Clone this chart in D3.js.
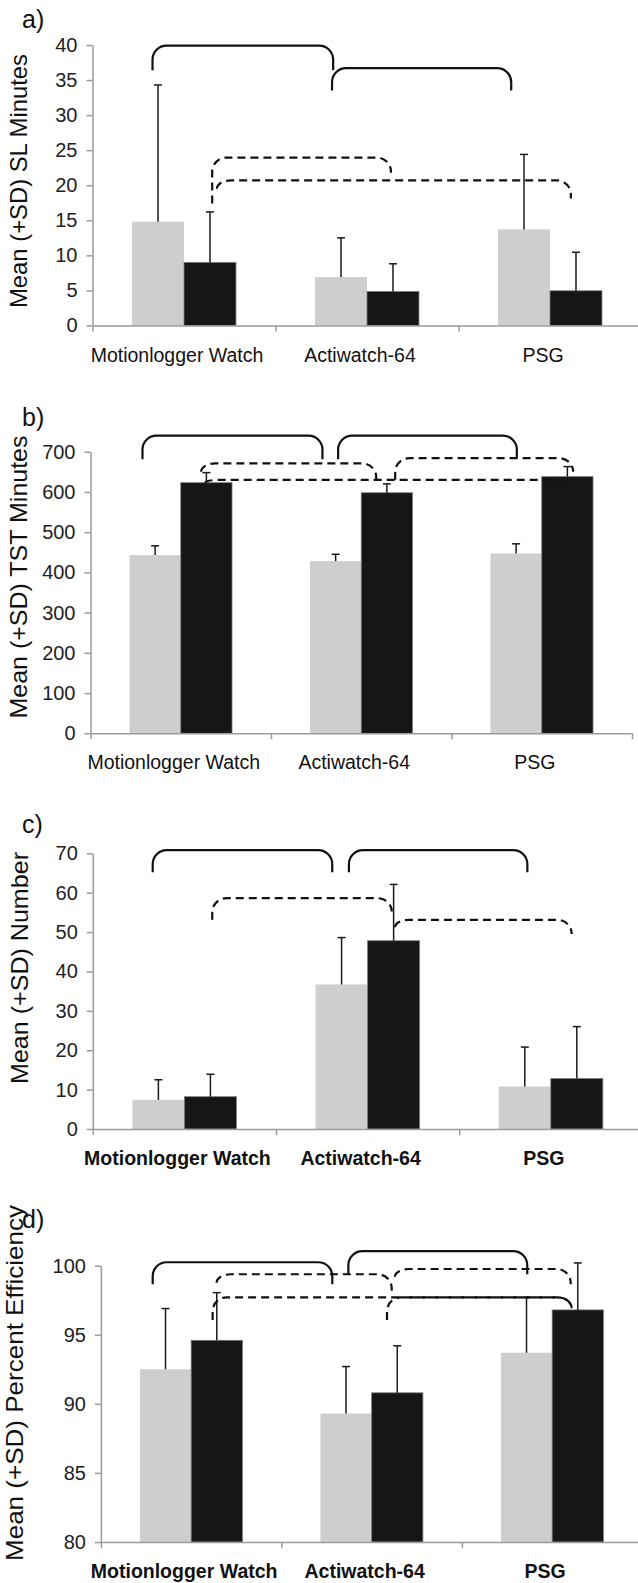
<!DOCTYPE html>
<html>
<head>
<meta charset="utf-8">
<script src="https://cdn.jsdelivr.net/npm/d3@7"></script>
<style>
  body { margin: 0; background: #fff; }
  svg { display: block; }
  text { font-family: "Liberation Sans", Arial, Helvetica, sans-serif; }
</style>
</head>
<body>
<svg id="fig" width="638" height="1583"></svg>
<script>
// ---- data ----
const categories = ['Motionlogger Watch', 'Actiwatch-64', 'PSG']
const groups = ['grey', 'black']

// a) sleep latency (minutes)
const slMeanGrey = [14.8, 6.9, 13.7]
const slSdGrey = [19.5, 5.6, 10.7]
const slMeanBlack = [9.0, 4.85, 4.95]
const slSdBlack = [7.2, 3.95, 5.5]
const slTicks = [0, 5, 10, 15, 20, 25, 30, 35, 40]

// b) total sleep time (minutes)
const tstMeanGrey = [443, 428, 447]
const tstSdGrey = [23, 17, 24]
const tstMeanBlack = [623, 598, 638]
const tstSdBlack = [25, 22, 25]
const tstTicks = [0, 100, 200, 300, 400, 500, 600, 700]

// c) number
const numMeanGrey = [7.4, 36.7, 10.8]
const numSdGrey = [5.1, 11.9, 10.0]
const numMeanBlack = [8.2, 47.8, 12.8]
const numSdBlack = [5.7, 14.3, 13.2]
const numTicks = [0, 10, 20, 30, 40, 50, 60, 70]

// d) percent efficiency
const effMeanGrey = [92.5, 89.3, 93.7]
const effSdGrey = [4.4, 3.4, 4.0]
const effMeanBlack = [94.6, 90.8, 96.8]
const effSdBlack = [3.45, 3.4, 3.4]
const effTicks = [80, 85, 90, 95, 100]

// significance brackets: from/to in category units (0..3), top and leg ends in data units
const slBrackets = [
    {from: 0.328, to: 1.315, top: 39.9, left: 36.4, right: 36.4, dashed: false},
    {from: 1.309, to: 2.288, top: 36.7, left: 33.5, right: 33.5, dashed: false},
    {from: 0.654, to: 1.631, top: 23.95, left: 17.4, right: 21.8, dashed: true},
    {from: 0.68, to: 2.614, top: 20.7, left: 19.5, right: 18.1, dashed: true}
]
const tstBrackets = [
    {from: 0.288, to: 1.285, top: 740, left: 681, right: 681, dashed: false},
    {from: 1.372, to: 2.362, top: 740, left: 681, right: 683, dashed: false},
    {from: 0.613, to: 1.583, top: 671, left: 650, right: 630, dashed: true},
    {from: 1.688, to: 2.674, top: 684, left: 630, right: 650, dashed: true},
    {from: 0.636, to: 2.62, top: 630, left: 623, right: 623, dashed: true}
]
const numBrackets = [
    {from: 0.327, to: 1.307, top: 70.8, left: 65.2, right: 65.2, dashed: false},
    {from: 1.398, to: 2.372, top: 70.8, left: 65.2, right: 65.2, dashed: false},
    {from: 0.652, to: 1.632, top: 58.6, left: 53.1, right: 55.2, dashed: true},
    {from: 1.65, to: 2.614, top: 53.1, left: 51.2, right: 49.5, dashed: true}
]
const effBrackets = [
    {from: 0.287, to: 1.282, top: 100.25, left: 98.65, right: 98.65, dashed: false},
    {from: 1.371, to: 2.362, top: 101.06, left: 99.38, right: 99.38, dashed: false},
    {from: 0.641, to: 1.611, top: 99.38, left: 98.77, right: 98.19, dashed: true},
    {from: 1.629, to: 2.603, top: 99.76, left: 99.2, right: 98.65, dashed: true},
    {from: 0.619, to: 2.608, top: 97.71, left: 96.07, right: 96.92, dashed: true},
    {from: 1.585, to: 2.608, top: 97.71, left: 96.07, right: 96.92, dashed: true}
]

// ---- layout (pixels) ----
const panels = [
    {tag: 'a)', tagY: 28, title: 'Mean (+SD) SL Minutes', titleX: 27, titleY: 181, titleLen: 254, bold: false,
     left: 92.5, cw: 183, top: 45, bottom: 325.5, domain: [0, 40], ticks: slTicks,
     grey: [slMeanGrey, slSdGrey], black: [slMeanBlack, slSdBlack], brackets: slBrackets},
    {tag: 'b)', tagY: 426, title: 'Mean (+SD) TST Minutes', titleX: 27, titleY: 577, titleLen: 283, bold: false,
     left: 90.5, cw: 180.5, top: 451.7, bottom: 733.3, domain: [0, 700], ticks: tstTicks,
     grey: [tstMeanGrey, tstSdGrey], black: [tstMeanBlack, tstSdBlack], brackets: tstBrackets},
    {tag: 'c)', tagY: 833, title: 'Mean (+SD) Number', titleX: 28, titleY: 968, titleLen: 232, bold: true,
     left: 92.8, cw: 183.2, top: 853.3, bottom: 1129, domain: [0, 70], ticks: numTicks,
     grey: [numMeanGrey, numSdGrey], black: [numMeanBlack, numSdBlack], brackets: numBrackets},
    {tag: 'd)', tagY: 1228, title: 'Mean (+SD) Percent Efficiency', titleX: 23, titleY: 1383, titleLen: 356, bold: true,
     left: 100.9, cw: 180.5, top: 1265.7, bottom: 1542, domain: [80, 100], ticks: effTicks,
     grey: [effMeanGrey, effSdGrey], black: [effMeanBlack, effSdBlack], brackets: effBrackets}
]

const svg = d3.select('#fig')

function bracketPath(x1, x2, yt, yl, yr) {
    const r = 14
    const ryl = Math.max(0.5, Math.min(r, yl - yt))
    const ryr = Math.max(0.5, Math.min(r, yr - yt))
    return 'M' + x1 + ',' + yl +
        ' L' + x1 + ',' + (yt + ryl) +
        ' A' + r + ',' + ryl + ' 0 0 1 ' + (x1 + r) + ',' + yt +
        ' L' + (x2 - r) + ',' + yt +
        ' A' + r + ',' + ryr + ' 0 0 1 ' + x2 + ',' + (yt + ryr) +
        ' L' + x2 + ',' + yr
}

function drawPanel(p) {
    const g = svg.append('g')
    const right = p.left + p.cw * categories.length

    const x = d3.scaleBand().domain(categories).range([p.left, right])
    const xSub = d3.scaleBand().domain(groups)
        .range([p.cw * (0.5 - 0.284), p.cw * (0.5 + 0.284)])
    const xU = d3.scaleLinear().domain([0, categories.length]).range([p.left, right])
    const y = d3.scaleLinear().domain(p.domain).range([p.bottom, p.top])

    // bars
    const rows = []
    categories.forEach(function (c, i) {
        rows.push({cat: c, group: 'grey', mean: p.grey[0][i], sd: p.grey[1][i]})
        rows.push({cat: c, group: 'black', mean: p.black[0][i], sd: p.black[1][i]})
    })

    g.selectAll('.bar')
        .data(rows)
        .join('rect')
        .attr('class', 'bar')
        .attr('x', function (d) { return x(d.cat) + xSub(d.group) })
        .attr('y', function (d) { return y(d.mean) })
        .attr('width', xSub.bandwidth())
        .attr('height', function (d) { return y(p.domain[0]) - y(d.mean) })
        .attr('fill', function (d) { return d.group === 'grey' ? '#cdcfce' : '#161616' })
        .attr('stroke', function (d) { return d.group === 'grey' ? 'none' : '#7a7a7a' })
        .attr('stroke-width', 0.8)

    // error bars (upper only)
    const cx = function (d) { return x(d.cat) + xSub(d.group) + xSub.bandwidth() / 2 }
    g.selectAll('.err')
        .data(rows)
        .join('line')
        .attr('class', 'err')
        .attr('x1', cx).attr('x2', cx)
        .attr('y1', function (d) { return y(d.mean) })
        .attr('y2', function (d) { return y(d.mean + d.sd) })
        .attr('stroke', '#1a1a1a')
        .attr('stroke-width', 1.5)
    g.selectAll('.cap')
        .data(rows)
        .join('line')
        .attr('class', 'cap')
        .attr('x1', function (d) { return cx(d) - 4 })
        .attr('x2', function (d) { return cx(d) + 4 })
        .attr('y1', function (d) { return y(d.mean + d.sd) })
        .attr('y2', function (d) { return y(d.mean + d.sd) })
        .attr('stroke', '#1a1a1a')
        .attr('stroke-width', 1.5)

    // y axis
    const yAxis = g.append('g')
        .attr('transform', 'translate(' + p.left + ',0)')
        .call(d3.axisLeft(y).tickValues(p.ticks).tickSize(6).tickSizeOuter(0).tickPadding(9))
    yAxis.select('.domain').attr('stroke', '#9a9a9a').attr('stroke-width', 1.5)
    yAxis.selectAll('.tick line').attr('stroke', '#9a9a9a').attr('stroke-width', 1.5)
    yAxis.selectAll('.tick text')
        .attr('font-size', 20)
        .attr('fill', '#222')
        .attr('font-family', '"Liberation Sans", Arial, sans-serif')

    // x axis
    const xAxis = g.append('g')
        .attr('transform', 'translate(0,' + p.bottom + ')')
        .call(d3.axisBottom(xU).tickValues(d3.range(categories.length + 1)).tickSize(6).tickSizeOuter(0).tickFormat(''))
    xAxis.select('.domain').attr('stroke', '#9a9a9a').attr('stroke-width', 1.5)
    xAxis.selectAll('.tick line').attr('stroke', '#9a9a9a').attr('stroke-width', 1.5)

    g.selectAll('.cat')
        .data(categories)
        .join('text')
        .attr('class', 'cat')
        .attr('x', function (d) { return x(d) + p.cw / 2 - 7 })
        .attr('y', p.bottom + 36)
        .attr('text-anchor', 'middle')
        .attr('font-size', 19.5)
        .attr('font-weight', p.bold ? 'bold' : 'normal')
        .attr('fill', '#111')
        .text(function (d) { return d })

    // brackets
    g.selectAll('.bracket')
        .data(p.brackets)
        .join('path')
        .attr('class', 'bracket')
        .attr('d', function (b) {
            return bracketPath(xU(b.from), xU(b.to), y(b.top), y(b.left), y(b.right))
        })
        .attr('fill', 'none')
        .attr('stroke', '#111')
        .attr('stroke-width', 2.2)
        .attr('stroke-dasharray', function (b) { return b.dashed ? '8,5' : null })

    // axis title
    g.append('text')
        .attr('transform', 'translate(' + p.titleX + ',' + p.titleY + ') rotate(-90)')
        .attr('text-anchor', 'middle')
        .attr('font-size', 24)
        .attr('fill', '#111')
        .attr('textLength', p.titleLen)
        .attr('lengthAdjust', 'spacingAndGlyphs')
        .text(p.title)

    // panel tag
    g.append('text')
        .attr('x', 22)
        .attr('y', p.tagY)
        .attr('font-family', '"Liberation Serif", "Times New Roman", serif')
        .attr('font-size', 25)
        .attr('fill', '#111')
        .text(p.tag)
}

panels.forEach(drawPanel)
</script>
</body>
</html>
